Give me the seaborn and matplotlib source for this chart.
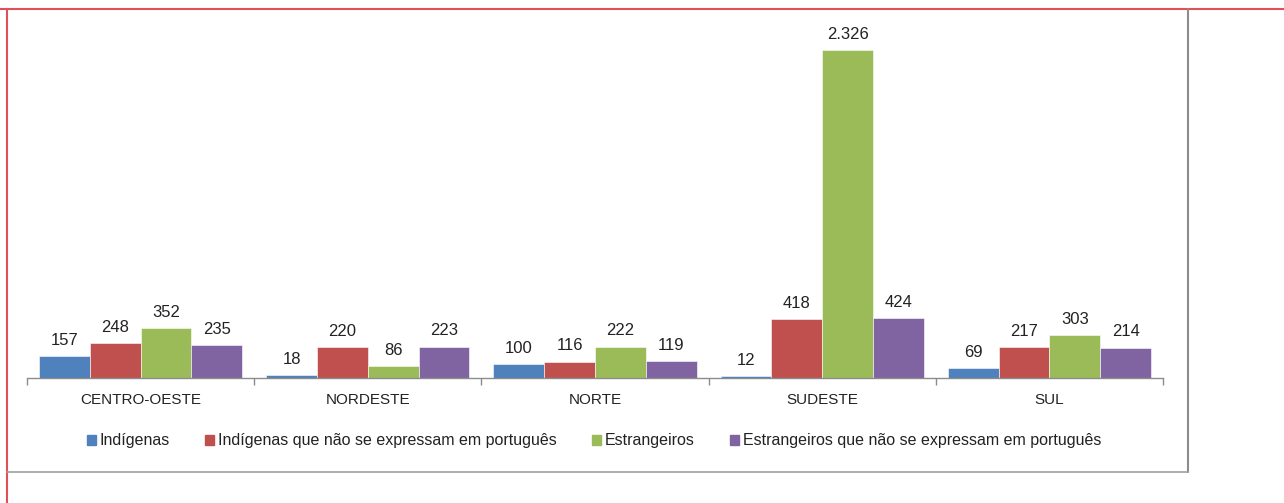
import matplotlib
matplotlib.use("Agg")
import matplotlib.pyplot as plt
import seaborn as sns
import pandas as pd
from matplotlib.lines import Line2D
from matplotlib.ticker import FixedLocator

# data
regions = ["CENTRO-OESTE", "NORDESTE", "NORTE", "SUDESTE", "SUL"]
series = ["Indígenas",
          "Indígenas que não se expressam em português",
          "Estrangeiros",
          "Estrangeiros que não se expressam em português"]
indigenas = [157, 18, 100, 12, 69]
indigenas_nao_pt = [248, 220, 116, 418, 217]
estrangeiros = [352, 86, 222, 2326, 303]
estrangeiros_nao_pt = [235, 223, 119, 424, 214]
colors = ["#4F81BD", "#C0504D", "#9BBB59", "#8064A2"]

values = [indigenas, indigenas_nao_pt, estrangeiros, estrangeiros_nao_pt]
rows = []
for s, vals in zip(series, values):
    for r, v in zip(regions, vals):
        rows.append({"regiao": r, "serie": s, "valor": v})
df = pd.DataFrame(rows)

sns.set_style("white")
plt.rcParams["font.family"] = ["Liberation Sans", "DejaVu Sans"]

fig = plt.figure(figsize=(12.84, 5.03), dpi=100)
ax = fig.add_axes([27 / 1284, 125 / 503, 1136 / 1284, 358 / 503])

sns.barplot(data=df, x="regiao", y="valor", hue="serie", order=regions,
            hue_order=series, palette=colors, width=0.894, gap=0,
            saturation=1, edgecolor="white", linewidth=0.4, ax=ax, legend=True)

def fmt(v):
    return f"{int(v):,}".replace(",", ".")

# value labels on top of bars
for cont in ax.containers:
    ax.bar_label(cont, labels=[fmt(b.get_height()) for b in cont],
                 padding=6, fontsize=12, color="#222222")

ax.set_xlim(-0.5, 4.5)
ax.set_ylim(0, 2539)
ax.set_xlabel("")
ax.set_ylabel("")
ax.set_yticks([])
for sp in ["top", "left", "right"]:
    ax.spines[sp].set_visible(False)
ax.spines["bottom"].set_color("#8c8c8c")
ax.spines["bottom"].set_linewidth(1)

# ticks between groups, labels at group centres
ax.xaxis.set_major_locator(FixedLocator([-0.5, 0.5, 1.5, 2.5, 3.5, 4.5]))
ax.xaxis.set_minor_locator(FixedLocator(range(len(regions))))
ax.set_xticklabels([], minor=False)
ax.set_xticklabels(regions, minor=True, fontsize=11, color="#222222")
ax.tick_params(axis="x", which="major", length=5, width=1, color="#8c8c8c",
               direction="out", bottom=True)
ax.tick_params(axis="x", which="minor", length=0, pad=11, bottom=True)

ax.get_legend().remove()
handles = [plt.Rectangle((0, 0), 1, 1, color=c) for c in colors]
fig.legend(handles, series, loc="center", bbox_to_anchor=(594 / 1284, 62 / 503),
           ncol=4, frameon=False, fontsize=11.5, handlelength=0.55,
           handleheight=0.55, handletextpad=0.25, columnspacing=2.2,
           labelcolor="#222222")

# frame lines
W, H = 1284, 503
fig.add_artist(Line2D([0, 1], [1 - 8.5 / H] * 2, color="#e0505a", lw=1.5,
                      transform=fig.transFigure))
fig.add_artist(Line2D([7 / W] * 2, [0, 1 - 8.5 / H], color="#e0505a", lw=1.5,
                      transform=fig.transFigure))
fig.add_artist(Line2D([1188 / W] * 2, [1 - 8.5 / H, 1 - 472 / H], color="#8c8c8c",
                      lw=1.5, transform=fig.transFigure))
fig.add_artist(Line2D([7 / W, 1188 / W], [1 - 472 / H] * 2, color="#a0a0a0",
                      lw=1.2, transform=fig.transFigure))

fig.savefig("out.png", dpi=100)
